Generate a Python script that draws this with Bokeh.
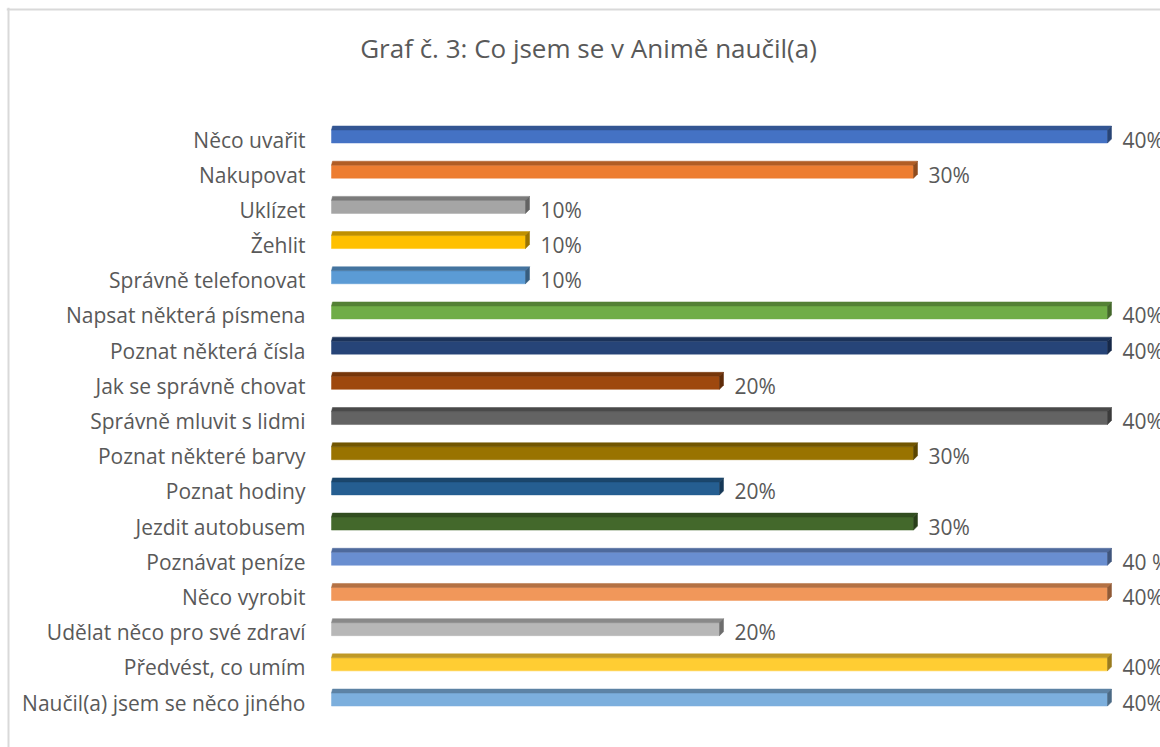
from bokeh.plotting import figure
from bokeh.models import Range1d, ColumnDataSource, Label, Span
from bokeh.core.properties import value
from bokeh.embed import file_html
from bokeh.resources import INLINE

title = "Graf č. 3: Co jsem se v Animě naučil(a)"
categories = [
    "Něco uvařit", "Nakupovat", "Uklízet", "Žehlit", "Správně telefonovat",
    "Napsat některá písmena", "Poznat některá čísla", "Jak se správně chovat",
    "Správně mluvit s lidmi", "Poznat některé barvy", "Poznat hodiny",
    "Jezdit autobusem", "Poznávat peníze", "Něco vyrobit",
    "Udělat něco pro své zdraví", "Předvést, co umím", "Naučil(a) jsem se něco jiného",
]
values = [40, 30, 10, 10, 10, 40, 40, 20, 40, 30, 20, 30, 40, 40, 20, 40, 40]
value_labels = ["40%", "30%", "10%", "10%", "10%", "40%", "40%", "20%", "40%",
                "30%", "20%", "30%", "40 %", "40%", "20%", "40%", "40%"]
colors = ["#4472C4", "#ED7D31", "#A5A5A5", "#FFC000", "#5B9BD5", "#70AD47",
          "#264478", "#9E480E", "#636363", "#997300", "#255E91", "#43682B",
          "#698ED0", "#F1975A", "#B7B7B7", "#FFCD33", "#7CAFDD"]

W, H = 1160, 747
FL, FT = 6, 7                      # frame left / top (canvas px)
x0_px, px_per_unit = 331.0, 19.4   # canvas px of 0 %, px per 1 %
y0_px, pitch = 136.0, 35.19        # canvas px of first row centre, row pitch

x_start = (FL - x0_px) / px_per_unit
x_end = (W - x0_px) / px_per_unit
y_top = (FT - y0_px) / pitch
y_bot = (H - y0_px) / pitch


def darker(c, f=0.72):
    r, g, b = int(c[1:3], 16), int(c[3:5], 16), int(c[5:7], 16)
    return "#%02x%02x%02x" % (int(r * f), int(g * f), int(b * f))


p = figure(width=W, height=H, output_backend="svg", toolbar_location=None,
           x_range=Range1d(x_start, x_end), y_range=Range1d(y_bot, y_top),
           min_border_left=FL, min_border_top=FT, min_border_right=0,
           min_border_bottom=0)
p.axis.visible = False
p.grid.visible = False
p.outline_line_color = None
p.background_fill_color = "white"
p.border_fill_color = "white"

# chart-area border: only its left and top sides fall inside the picture
p.add_layout(Span(location=x_start + 2.0 / px_per_unit, dimension="height",
                  line_color="#d9d9d9", line_width=2))
p.add_layout(Span(location=y_top + 2.0 / pitch, dimension="width",
                  line_color="#d9d9d9", line_width=2))

half = 6.5 / pitch
dx = 4.0 / px_per_unit
dy = 4.0 / pitch
ys = list(range(len(categories)))

front = ColumnDataSource(dict(left=[0] * len(values), right=values,
                              top=[y - half for y in ys], bottom=[y + half for y in ys],
                              color=colors))
p.quad(left="left", right="right", top="top", bottom="bottom", source=front,
       fill_color="color", line_color="color", line_width=0.5)

top_xs, top_ys, side_xs, side_ys = [], [], [], []
for y, v in zip(ys, values):
    yt, yb = y - half, y + half
    top_xs.append([0.05, v + dx, v, 0])
    top_ys.append([yt - dy, yt - dy, yt, yt])
    side_xs.append([v, v + dx, v + dx, v])
    side_ys.append([yt, yt - dy, yb - dy, yb])
top_c = [darker(c, 0.75) for c in colors]
side_c = [darker(c, 0.6) for c in colors]
p.patches(xs=top_xs, ys=top_ys, fill_color=top_c, line_color=top_c, line_width=0.5)
p.patches(xs=side_xs, ys=side_ys, fill_color=side_c, line_color=side_c, line_width=0.5)

lab = ColumnDataSource(dict(x=[0] * len(categories), y=ys, text=categories))
p.text(x="x", y="y", text="text", source=lab, x_offset=-26, y_offset=3,
       text_align="right", text_baseline="middle", text_font=value("Open Sans"),
       text_font_size="21px", text_color="#595959")

vl = ColumnDataSource(dict(x=values, y=ys, text=value_labels))
p.text(x="x", y="y", text="text", source=vl, x_offset=15, y_offset=3,
       text_align="left", text_baseline="middle", text_font=value("Open Sans"),
       text_font_size="21px", text_color="#595959")

p.add_layout(Label(x=582, y=H - 47, x_units="screen", y_units="screen", text=title,
                   text_align="center", text_baseline="middle",
                   text_font="Open Sans", text_font_size="26px",
                   text_color="#595959"))

open("out.html", "w").write(file_html(p, INLINE))
